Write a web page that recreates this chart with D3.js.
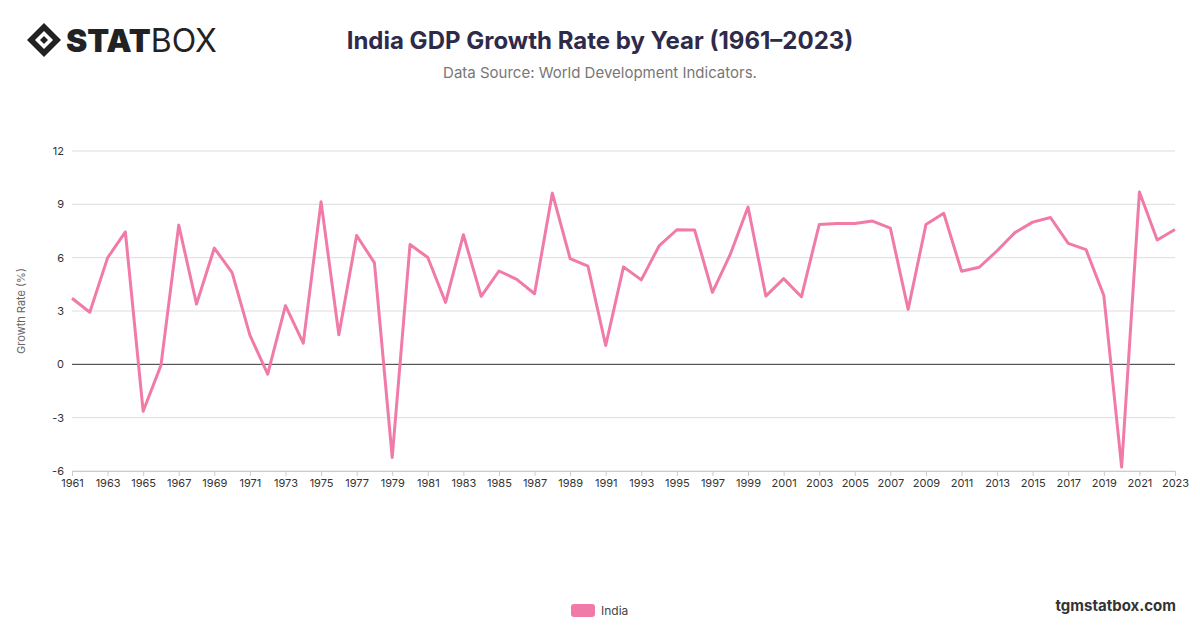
<!DOCTYPE html>
<html><head><meta charset="utf-8">
<script src="https://cdn.jsdelivr.net/npm/d3@7"></script>
<style>body{margin:0;background:#fff;font-family:Inter,"Open Sans",sans-serif}</style>
</head><body><svg id="c" width="1200" height="628"></svg>
<script>
const years = d3.range(1961, 2024);
const growth = [3.72,2.93,5.99,7.45,-2.64,-0.06,7.83,3.39,6.54,5.16,1.64,-0.55,3.30,1.19,9.15,1.66,7.25,5.71,-5.24,6.74,6.01,3.48,7.29,3.82,5.25,4.78,3.97,9.63,5.95,5.53,1.06,5.48,4.75,6.66,7.57,7.55,4.05,6.18,8.85,3.84,4.82,3.80,7.86,7.92,7.92,8.06,7.66,3.09,7.86,8.50,5.24,5.46,6.39,7.41,8.00,8.26,6.80,6.45,3.87,-5.78,9.69,6.99,7.58];
const yTicks = [-6,-3,0,3,6,9,12];
const xTicks = years.filter(y => (y - 1961) % 2 === 0);

const svg = d3.select("#c");
const x = d3.scaleLinear().domain([1961, 2023]).range([72, 1175]);
const y = d3.scaleLinear().domain([-6, 12]).range([471, 151]);

// grid
svg.append("g").selectAll("line").data(yTicks).join("line")
  .attr("x1", 72).attr("x2", 1175).attr("y1", d => y(d)).attr("y2", d => y(d))
  .attr("stroke", d => d === 0 ? "#333" : "#ddd").attr("stroke-width", 1);
svg.append("g").selectAll("text").data(yTicks).join("text")
  .attr("x", 64).attr("y", d => y(d) + 4).attr("text-anchor", "end")
  .attr("font-size", 11).attr("fill", "#333").text(d => d);

const xa = svg.append("g").attr("transform", "translate(0,471)")
  .call(d3.axisBottom(x).tickValues(xTicks).tickFormat(d3.format("d")).tickSize(5));
xa.select(".domain").attr("stroke", "#ccc");
xa.selectAll("line").attr("stroke", "#ccc");
xa.selectAll("text").attr("font-size", 11).attr("fill", "#333").attr("font-family", "Inter,sans-serif");

svg.append("text").attr("transform", "translate(25,311) rotate(-90)")
  .attr("text-anchor", "middle").attr("font-size", 11).attr("fill", "#666")
  .text("Growth Rate (%)");

svg.append("path").datum(growth)
  .attr("fill", "none").attr("stroke", "#f17ba8").attr("stroke-width", 3)
  .attr("stroke-linejoin", "round")
  .attr("d", d3.line().x((d, i) => x(years[i])).y(d => y(d)));

// title
svg.append("text").attr("x", 600).attr("y", 49).attr("text-anchor", "middle")
  .attr("font-size", 24).attr("font-weight", 700).attr("fill", "#2e2a4a")
  .text("India GDP Growth Rate by Year (1961–2023)");
svg.append("text").attr("x", 600).attr("y", 78).attr("text-anchor", "middle")
  .attr("font-size", 15).attr("fill", "#777")
  .text("Data Source: World Development Indicators.");

// logo
const lg = svg.append("g").attr("transform", "translate(44,40)");
lg.append("path").attr("d", "M0,-17 L17,0 L0,17 L-17,0 Z").attr("fill", "#222");
lg.append("path").attr("d", "M0,-9 L9,0 L0,9 L-9,0 Z").attr("fill", "#fff");
lg.append("path").attr("d", "M0,-4 L4,0 L0,4 L-4,0 Z").attr("fill", "#222");
svg.append("text").attr("x", 66).attr("y", 52).attr("font-size", 32).attr("fill", "#222")
  .attr("font-family", "Inter,sans-serif")
  .html('<tspan font-weight="900">STAT</tspan><tspan font-weight="400">BOX</tspan>');

// legend
svg.append("rect").attr("x", 571).attr("y", 604).attr("width", 24).attr("height", 13).attr("rx", 3).attr("fill", "#f17ba8");
svg.append("text").attr("x", 601).attr("y", 615).attr("font-size", 12).attr("fill", "#444").text("India");

svg.append("text").attr("x", 1176).attr("y", 611).attr("text-anchor", "end")
  .attr("font-size", 15).attr("font-weight", 700).attr("fill", "#333").text("tgmstatbox.com");
</script></body></html>
